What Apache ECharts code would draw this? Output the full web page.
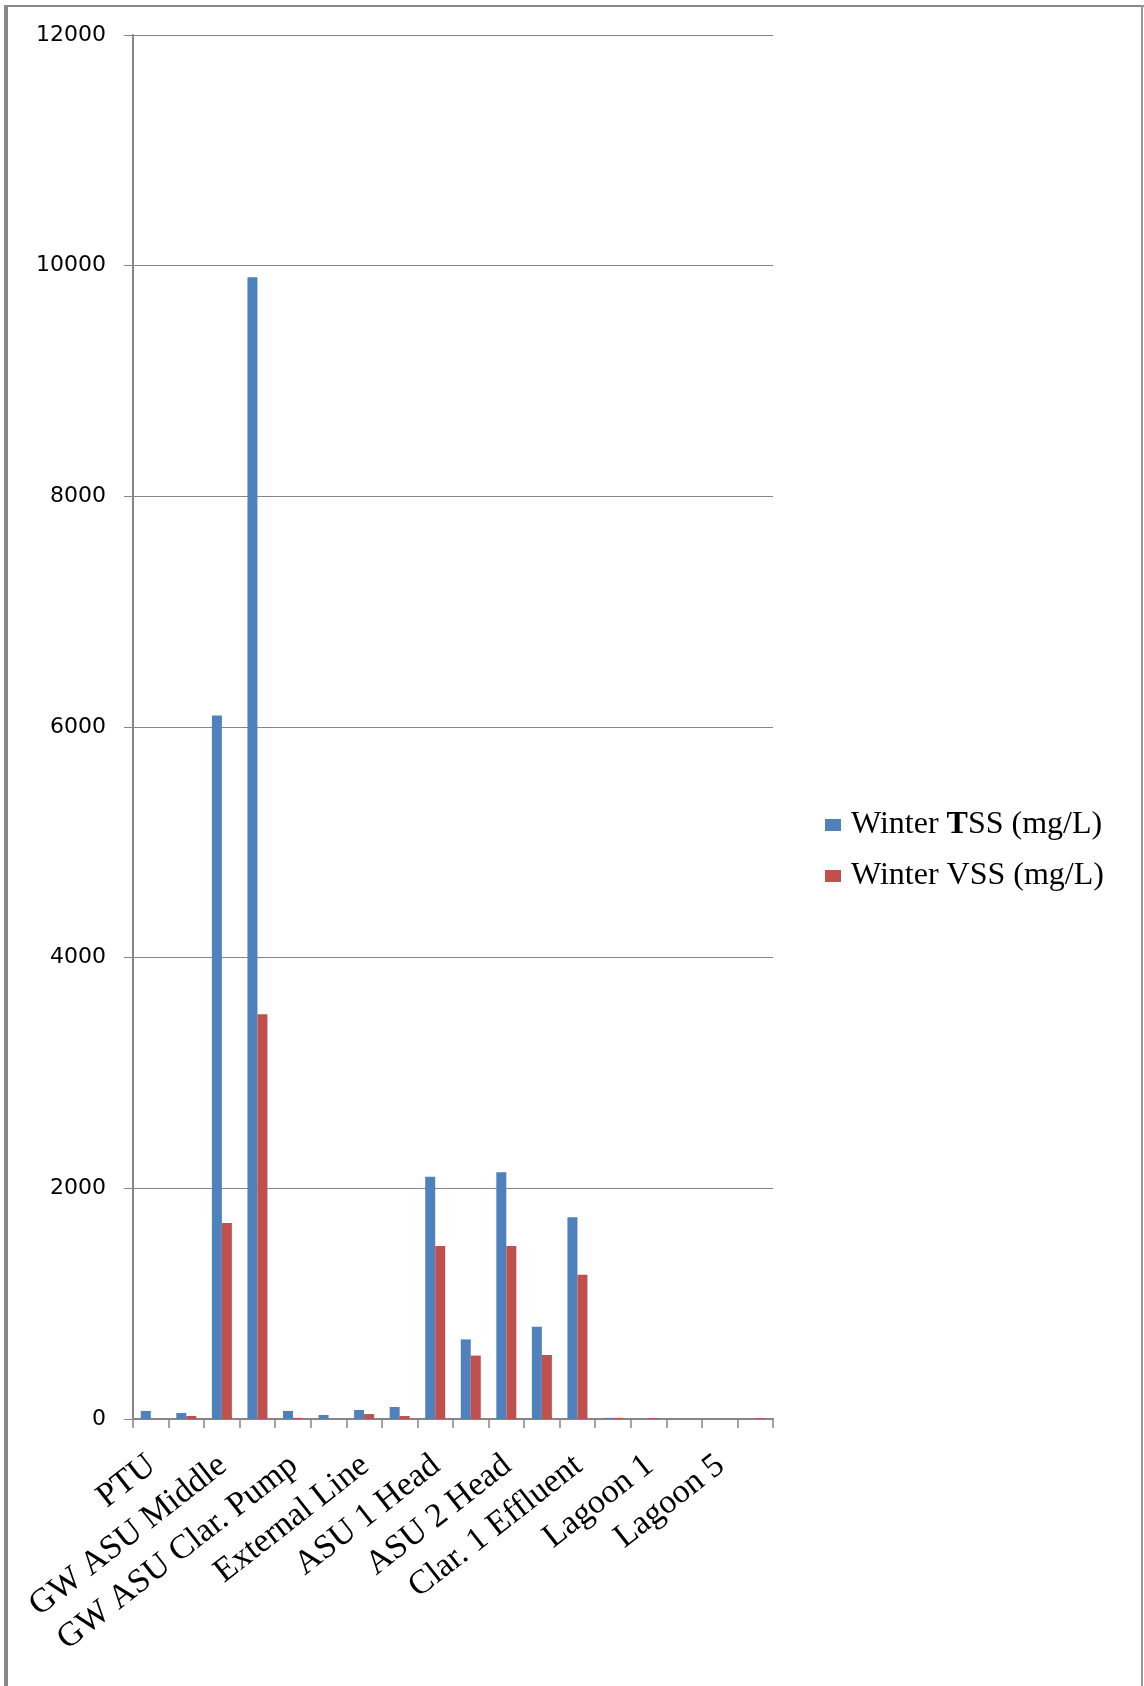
<!DOCTYPE html>
<html>
<head>
<meta charset="utf-8">
<script src="https://cdn.jsdelivr.net/npm/echarts@6/dist/echarts.min.js"></script>
<style>
html,body{margin:0;padding:0;background:#fff;}
#chart{width:1144px;height:1686px;}
</style>
</head>
<body>
<div id="chart"></div>
<script>
// Categories (only every other one is labelled in the source chart)
var categories = [
  "PTU", "GW ASU Head", "GW ASU Middle", "GW ASU Tail", "GW ASU Clar. Pump",
  "Internal Line", "External Line", "ASU 1 Influent", "ASU 1 Head", "ASU 1 Tail",
  "ASU 2 Head", "ASU 2 Tail", "Clar. 1 Effluent", "Clar. 2 Effluent", "Lagoon 1",
  "Lagoon 3", "Lagoon 5", "Final Effluent"
];
var seriesNames = ["Winter TSS (mg/L)", "Winter VSS (mg/L)"];
var tssValues = [70, 52, 6100, 9900, 70, 35, 78, 104, 2100, 690, 2140, 800, 1750, 10, 0, 0, 0, 0];
var vssValues = [0, 26, 1700, 3510, 10, 0, 43, 26, 1500, 550, 1500, 555, 1250, 10, 8, 0, 0, 8];
var yTicks = { min: 0, max: 12000, interval: 2000 };

var chart = echarts.init(document.getElementById('chart'), null, {renderer: 'canvas'});
var gray = '#868686';
var serif = '"Liberation Serif", "Times New Roman", serif';

var option = {
  backgroundColor: '#ffffff',
  animation: false,
  grid: { left: 133, right: 371, top: 35, bottom: 267, containLabel: false },
  legend: {
    orient: 'vertical',
    left: 825,
    top: 809,
    padding: 0,
    itemWidth: 16,
    itemHeight: 12,
    itemGap: 19,
    icon: 'rect',
    data: seriesNames,
    formatter: function (name) {
      return name.replace('TSS', '{b|T}SS');
    },
    textStyle: {
      fontFamily: serif,
      fontSize: 32,
      lineHeight: 30,
      color: '#000',
      padding: [0, 0, 0, 5],
      rich: {
        b: { fontFamily: serif, fontSize: 32, lineHeight: 30, fontWeight: 'bold', color: '#000' }
      }
    }
  },
  xAxis: {
    type: 'category',
    data: categories,
    axisLine: { show: true, lineStyle: { color: gray, width: 2 } },
    axisTick: { show: true, interval: 0, length: 9, lineStyle: { color: gray, width: 1.5 } },
    axisLabel: {
      interval: 1,
      rotate: 38,
      align: 'right',
      verticalAlign: 'top',
      margin: 22,
      padding: [0, 12, 0, 0],
      fontFamily: serif,
      fontSize: 34,
      color: '#000'
    },
    splitLine: { show: false }
  },
  yAxis: {
    type: 'value',
    min: yTicks.min,
    max: yTicks.max,
    interval: yTicks.interval,
    axisLine: { show: true, lineStyle: { color: gray, width: 2 } },
    axisTick: { show: true, length: 9, lineStyle: { color: gray, width: 1 } },
    axisLabel: {
      margin: 27,
      fontFamily: '"DejaVu Sans", sans-serif',
      fontSize: 22,
      color: '#000',
      formatter: function (v) { return String(v); }
    },
    splitLine: { show: true, lineStyle: { color: gray, width: 1 } }
  },
  series: [
    {
      name: seriesNames[0],
      type: 'bar',
      data: tssValues,
      barWidth: 10,
      barGap: '0%',
      itemStyle: { color: '#4F81BD' }
    },
    {
      name: seriesNames[1],
      type: 'bar',
      data: vssValues,
      barWidth: 10,
      barGap: '0%',
      itemStyle: { color: '#C0504D' }
    }
  ],
  graphic: [
    { type: 'line', shape: { x1: 4, y1: 6, x2: 1144, y2: 6 }, style: { stroke: '#888', lineWidth: 2 }, silent: true },
    { type: 'line', shape: { x1: 6, y1: 5, x2: 6, y2: 1686 }, style: { stroke: '#888', lineWidth: 4 }, silent: true },
    { type: 'line', shape: { x1: 1142, y1: 5, x2: 1142, y2: 1686 }, style: { stroke: '#999', lineWidth: 2 }, silent: true }
  ]
};
chart.setOption(option);
</script>
</body>
</html>
